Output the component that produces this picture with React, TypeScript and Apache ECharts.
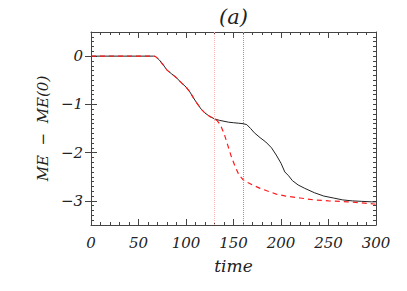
import React, { useEffect, useRef } from "react";
import * as echarts from "echarts";

const blackT = [0, 30, 60, 66, 68, 72, 76, 80, 85, 90, 95, 100, 104, 108, 112, 116, 120, 125, 130, 135, 140, 145, 150, 155, 160, 164, 168, 172, 178, 184, 190, 195, 200, 204, 208, 212, 218, 225, 235, 245, 255, 265, 275, 285, 295, 300];
const blackV = [0, 0, 0, 0, -0.01, -0.08, -0.18, -0.29, -0.37, -0.45, -0.55, -0.64, -0.74, -0.87, -0.99, -1.1, -1.18, -1.25, -1.3, -1.33, -1.35, -1.37, -1.38, -1.39, -1.4, -1.42, -1.5, -1.59, -1.69, -1.78, -1.9, -2.05, -2.22, -2.4, -2.48, -2.58, -2.67, -2.74, -2.83, -2.9, -2.94, -2.98, -3.0, -3.01, -3.02, -3.02];

const redT = [0, 30, 60, 66, 68, 72, 76, 80, 85, 90, 95, 100, 104, 108, 112, 116, 120, 125, 130, 133, 136, 140, 144, 148, 152, 156, 160, 165, 170, 178, 185, 195, 205, 220, 235, 250, 270, 285, 300];
const redV = [0, 0, 0, 0, -0.01, -0.08, -0.18, -0.29, -0.37, -0.45, -0.55, -0.64, -0.74, -0.87, -0.99, -1.1, -1.18, -1.25, -1.3, -1.34, -1.42, -1.6, -1.85, -2.1, -2.3, -2.47, -2.56, -2.62, -2.67, -2.74, -2.79, -2.86, -2.9, -2.94, -2.98, -3.0, -3.02, -3.04, -3.07];

const markTimes = [130, 160];
const yMajorTicks = [-3, -2, -1, 0];
const titleText = "(a)";
const xName = "time";
const yName = "ME  \u2212  ME(0)";

const FONT = "DejaVu Serif";
const AX = "#444";

export default function App() {
  const ref = useRef<HTMLDivElement>(null);
  useEffect(() => {
    if (!ref.current) return;
    const chart = echarts.init(ref.current, null, { renderer: "svg" });
    const labelStyle = {
      fontFamily: FONT,
      fontStyle: "italic" as const,
      fontSize: 15,
      color: "#222",
    };
    const xBase = (pos: "bottom" | "top", showLabel: boolean) => ({
      type: "value" as const,
      position: pos,
      min: 0,
      max: 300,
      interval: 50,
      axisLine: { show: true, onZero: false, lineStyle: { color: AX, width: 1 } },
      axisTick: { show: true, inside: true, length: 6, lineStyle: { color: AX } },
      minorTick: { show: true, splitNumber: 5, length: 3, lineStyle: { color: AX } },
      splitLine: { show: false },
      axisLabel: showLabel
        ? { show: true, margin: 10, ...labelStyle }
        : { show: false },
    });
    const yMinor = (pos: "left" | "right", showLabel: boolean) => ({
      type: "value" as const,
      position: pos,
      min: -3.5,
      max: 0.5,
      interval: 0.1,
      axisLine: { show: true, onZero: false, lineStyle: { color: AX, width: 1 } },
      axisTick: { show: true, inside: true, length: 3, lineStyle: { color: AX } },
      splitLine: { show: false },
      axisLabel: showLabel
        ? {
            show: true,
            margin: 8,
            customValues: yMajorTicks,
            formatter: (v: number) => String(Math.round(v)).replace("-", "\u2212"),
            ...labelStyle,
          }
        : { show: false },
    });
    const yMajor = (pos: "left" | "right") => ({
      type: "value" as const,
      position: pos,
      min: -3.5,
      max: 0.5,
      interval: 0.1,
      axisLine: { show: false },
      axisTick: { show: true, inside: true, length: 6, customValues: yMajorTicks, lineStyle: { color: AX } },
      splitLine: { show: false },
      axisLabel: { show: false },
    });
    chart.setOption({
      animation: false,
      grid: { left: 91, right: 31, top: 32, bottom: 66, containLabel: false },
      xAxis: [xBase("bottom", true), xBase("top", false)],
      yAxis: [yMinor("left", true), yMajor("left"), yMinor("right", false), yMajor("right")],
      graphic: [
        {
          type: "text",
          x: 233.5,
          y: 17,
          style: { text: titleText, fontFamily: FONT, fontStyle: "italic", fontSize: 21, fill: "#222", align: "center", verticalAlign: "middle" },
        },
        {
          type: "text",
          x: 233.5,
          y: 266,
          style: { text: xName, fontFamily: FONT, fontStyle: "italic", fontSize: 17, fill: "#222", align: "center", verticalAlign: "middle" },
        },
        {
          type: "text",
          x: 43,
          y: 128.5,
          rotation: Math.PI / 2,
          style: { text: yName, fontFamily: FONT, fontStyle: "italic", fontSize: 15, fill: "#222", align: "center", verticalAlign: "middle" },
        },
      ],
      series: [
        {
          type: "line",
          xAxisIndex: 0,
          yAxisIndex: 0,
          data: blackT.map((t, i) => [t, blackV[i]]),
          showSymbol: false,
          symbol: "none",
          lineStyle: { color: "#222", width: 1 },
          z: 3,
          markLine: {
            silent: true,
            symbol: "none",
            label: { show: false },
            data: [
              { xAxis: markTimes[0], lineStyle: { color: "#ffb3b3", type: "dotted", width: 1 } },
              { xAxis: markTimes[1], lineStyle: { color: "#999", type: "dotted", width: 1 } },
            ],
          },
        },
        {
          type: "line",
          xAxisIndex: 0,
          yAxisIndex: 0,
          data: redT.map((t, i) => [t, redV[i]]),
          showSymbol: false,
          symbol: "none",
          lineStyle: { color: "#ff1a1a", width: 1.2, type: [5, 4] },
          z: 4,
        },
      ],
    });
    return () => chart.dispose();
  }, []);
  return (
    <div
      ref={ref}
      style={{ position: "fixed", left: 0, top: 0, width: 407, height: 291, background: "#fff" }}
    />
  );
}
